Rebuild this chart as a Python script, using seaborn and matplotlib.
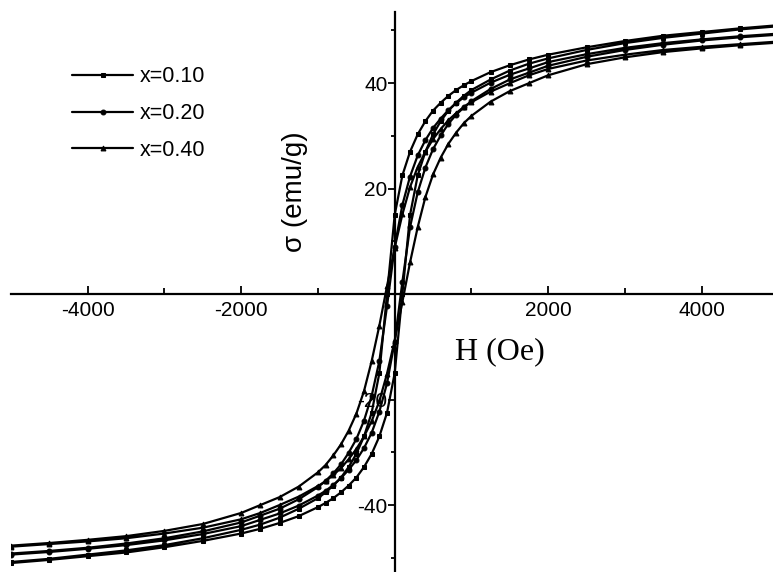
import pandas as pd
import matplotlib
matplotlib.use("Agg")
import matplotlib.pyplot as plt
from matplotlib.ticker import FixedLocator
import seaborn as sns

# Campo aplicado (Oe) en el orden de la rama descendente
campo = [5000, 4500, 4000, 3500, 3000, 2500, 2000, 1750, 1500, 1250,
         1000, 900, 800, 700, 600, 500, 400, 300, 200, 100, 0,
         -100, -200, -300, -400, -500, -600, -700, -800, -900, -1000,
         -1250, -1500, -1750, -2000, -2500, -3000, -3500, -4000, -4500, -5000]

# Magnetizacion (emu/g), rama que baja y rama que sube
m010_baja = [51.0, 50.4, 49.7, 49.0, 48.0, 46.8, 45.4, 44.5, 43.4, 42.1,
             40.4, 39.6, 38.7, 37.6, 36.3, 34.8, 32.8, 30.3, 27.0, 22.5, 15.0,
             0.0, -15.0, -22.5, -27.0, -30.3, -32.8, -34.8, -36.3, -37.6, -38.7,
             -40.7, -42.4, -43.7, -44.7, -46.3, -47.6, -48.6, -49.4, -50.2, -50.8]
m010_sube = [50.8, 50.2, 49.4, 48.6, 47.6, 46.3, 44.7, 43.7, 42.4, 40.7,
             38.7, 37.6, 36.3, 34.8, 32.8, 30.3, 27.0, 22.5, 15.0, 0.0, -15.0,
             -22.5, -27.0, -30.3, -32.8, -34.8, -36.3, -37.6, -38.7, -39.6, -40.4,
             -42.1, -43.4, -44.5, -45.4, -46.8, -48.0, -49.0, -49.7, -50.4, -51.0]
m020_baja = [49.4, 48.9, 48.3, 47.6, 46.7, 45.5, 44.0, 42.8, 41.6, 40.1,
             38.2, 37.3, 36.2, 34.9, 33.3, 31.5, 29.2, 26.3, 22.3, 16.9, 9.0,
             -2.3, -12.7, -19.3, -24.0, -27.5, -30.1, -32.3, -34.0, -35.4, -36.6,
             -38.9, -40.7, -42.0, -43.3, -45.0, -46.3, -47.3, -48.1, -48.7, -49.2]
m020_sube = [49.2, 48.7, 48.1, 47.3, 46.3, 45.0, 43.3, 42.0, 40.7, 38.9,
             36.6, 35.4, 34.0, 32.3, 30.1, 27.5, 24.0, 19.3, 12.7, 2.3, -9.0,
             -16.9, -22.3, -26.3, -29.2, -31.5, -33.3, -34.9, -36.2, -37.3, -38.2,
             -40.1, -41.6, -42.8, -44.0, -45.5, -46.7, -47.6, -48.3, -48.9, -49.4]
m040_baja = [47.9, 47.4, 46.9, 46.3, 45.4, 44.3, 42.7, 41.5, 40.0, 38.4,
             36.4, 35.5, 34.3, 33.0, 31.3, 29.4, 27.0, 24.1, 20.3, 15.1, 8.8,
             1.5, -6.0, -12.7, -18.4, -22.7, -25.9, -28.5, -30.6, -32.4, -33.8,
             -36.5, -38.5, -40.0, -41.5, -43.6, -44.9, -45.9, -46.6, -47.2, -47.7]
m040_sube = [47.7, 47.2, 46.6, 45.9, 44.9, 43.6, 41.5, 40.0, 38.5, 36.5,
             33.8, 32.4, 30.6, 28.5, 25.9, 22.7, 18.4, 12.7, 6.0, -1.5, -8.8,
             -15.1, -20.3, -24.1, -27.0, -29.4, -31.3, -33.0, -34.3, -35.5, -36.4,
             -38.4, -40.0, -41.5, -42.7, -44.3, -45.4, -46.3, -46.9, -47.4, -47.9]

muestras = ["x=0.10", "x=0.20", "x=0.40"]
ramas = [(m010_baja, m010_sube), (m020_baja, m020_sube), (m040_baja, m040_sube)]

# Tabla larga: cada ciclo baja de +5000 a -5000 y vuelve a subir
filas = []
for nombre, (baja, sube) in zip(muestras, ramas):
    h_ciclo = campo + campo[::-1]
    m_ciclo = baja + sube[::-1]
    for h, m in zip(h_ciclo, m_ciclo):
        filas.append({"H": h, "M": m, "muestra": nombre})
datos = pd.DataFrame(filas)

sns.set_style("ticks", {"axes.edgecolor": "black", "text.color": "black",
                        "xtick.color": "black", "ytick.color": "black"})
plt.rcParams["font.family"] = ["Liberation Sans", "DejaVu Sans"]
plt.rcParams["axes.unicode_minus"] = False

fig = plt.figure(figsize=(7.73, 5.72), dpi=100)
ax = fig.add_axes([11 / 773, 0, 762 / 773, 560 / 572])

sns.lineplot(data=datos, x="H", y="M", hue="muestra", style="muestra",
             palette=["black"] * 3, markers=["s", "o", "^"], dashes=False,
             estimator=None, sort=False, lw=1.6, markersize=3.5,
             markeredgecolor="black", ax=ax)

# Ejes cruzando en el origen
ax.spines["left"].set_position(("data", 0))
ax.spines["bottom"].set_position(("data", 0))
ax.spines["top"].set_visible(False)
ax.spines["right"].set_visible(False)
for lado in ["left", "bottom"]:
    ax.spines[lado].set_linewidth(1.6)
    ax.spines[lado].set_color("black")

ax.set_xlim(-5000, 4930)
ax.set_ylim(-52.7, 53.5)

ax.xaxis.set_major_locator(FixedLocator([-4000, -2000, 2000, 4000]))
ax.xaxis.set_minor_locator(FixedLocator([-3000, -1000, 1000, 3000]))
ax.yaxis.set_major_locator(FixedLocator([-40, -20, 20, 40]))
ax.yaxis.set_minor_locator(FixedLocator([-50, -30, -10, 10, 30, 50]))
ax.tick_params(axis="both", which="both", colors="black", labelcolor="black")
ax.tick_params(axis="x", which="both", direction="in", width=1.3)
ax.tick_params(axis="x", which="major", length=6, pad=5, labelsize=15)
ax.tick_params(axis="x", which="minor", length=4)
ax.tick_params(axis="y", which="both", direction="out", width=1.3)
ax.tick_params(axis="y", which="major", length=5, pad=0, labelsize=15)
ax.tick_params(axis="y", which="minor", length=3)

ax.set_xlabel("H (Oe)", fontsize=23, family="Liberation Serif", color="black")
ax.xaxis.label.set(va="center", ha="center")
ax.xaxis.set_label_coords(0.642, 0.393)
ax.set_ylabel("σ (emu/g)", fontsize=20, color="black")
ax.yaxis.label.set(va="center", ha="center")
ax.yaxis.set_label_coords(0.373, 0.679)

sns.move_legend(ax, "upper left", bbox_to_anchor=(0.08, 0.903), frameon=False,
                title=None, fontsize=15.5, handlelength=2.85, handletextpad=0.3,
                labelspacing=0.73, borderaxespad=0, borderpad=0)

fig.savefig("out.png", dpi=100)
plt.close()
